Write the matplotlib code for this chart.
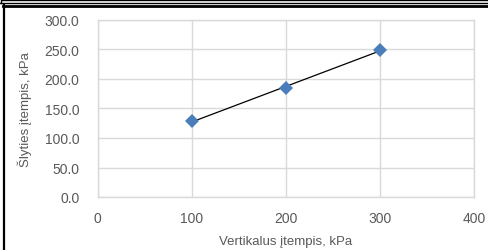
import numpy as np
import matplotlib
matplotlib.use("Agg")
import matplotlib.pyplot as plt
from matplotlib.lines import Line2D

plt.rcParams["font.family"] = ["Liberation Sans", "DejaVu Sans"]

# data
vertical_stress = [100, 200, 300]      # kPa
shear_stress = [128.5, 184.5, 249.0]   # kPa

x_ticks = [0, 100, 200, 300, 400]
y_ticks = [0, 50, 100, 150, 200, 250, 300]

W, H = 488, 251
fig = plt.figure(figsize=(W / 100, H / 100), dpi=100)
ax = fig.add_axes([97.5 / W, 1 - 198 / H, (474 - 97.5) / W, (198 - 21) / H])

grid_c = "#d9d9d9"
text_c = "#595959"

# linear trendline through the points
k, b = np.polyfit(vertical_stress, shear_stress, 1)
xs = np.array([min(vertical_stress), max(vertical_stress)])
ax.plot(xs, k * xs + b, color="black", linewidth=0.9, zorder=2)
ax.plot(vertical_stress, shear_stress, linestyle="none", marker="D",
        markersize=7, color="#4a7ebb", markeredgewidth=0, zorder=3)

ax.set_xlim(0, 400)
ax.set_ylim(0, 300)
ax.set_xticks(x_ticks)
ax.set_yticks(y_ticks)
ax.set_yticklabels([f"{v:.1f}" for v in y_ticks])
ax.grid(True, color=grid_c, linewidth=1.0)
ax.set_axisbelow(True)
for spine in ax.spines.values():
    spine.set_color(grid_c)
    spine.set_linewidth(1.0)
ax.tick_params(length=0, labelsize=10, colors=text_c)
ax.tick_params(axis="x", pad=10)
ax.tick_params(axis="y", pad=13)

ax.set_xlabel("Vertikalus įtempis, kPa", fontsize=9.5, color=text_c, labelpad=7)
ax.set_ylabel("Šlyties įtempis, kPa", fontsize=9.5, color=text_c, labelpad=9)

# frame lines around the chart box
def hline(y, lw, x0=0):
    fig.add_artist(Line2D([x0 / W, 1], [1 - y / H, 1 - y / H], color="black",
                          linewidth=lw, transform=fig.transFigure))

hline(0.7, 1.0, 2)
hline(3.5, 1.0, 0)
hline(7, 2.0, 3)
fig.add_artist(Line2D([4 / W, 4 / W], [1 - 6 / H, 0], color="black",
                      linewidth=1.6, transform=fig.transFigure))
fig.add_artist(Line2D([1 / W, 1 / W], [1, 1 - 4 / H], color="black",
                      linewidth=1.0, transform=fig.transFigure))

fig.savefig("out.png", dpi=100)
